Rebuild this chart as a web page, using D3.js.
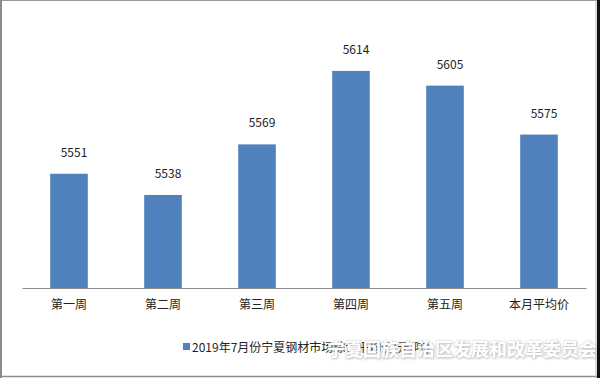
<!DOCTYPE html>
<html>
<head>
<meta charset="utf-8">
<script src="https://cdn.jsdelivr.net/npm/d3@7"></script>
<style>
  body { margin: 0; background: #fff; }
  svg { display: block; font-family: "Noto Sans CJK SC", "Noto Sans", sans-serif; }
</style>
</head>
<body>
<div id="main"></div>
<script>
var categories = ['第一周', '第二周', '第三周', '第四周', '第五周', '本月平均价'];
var prices = [5551, 5538, 5569, 5614, 5605, 5575];
var seriesName = '2019年7月份宁夏钢材市场综合平均价(元/吨)';
var watermark = '宁夏回族自治区发展和改革委员会';

var data = categories.map(function(c, i) { return { cat: c, val: prices[i] }; });

var width = 600, height = 378;
var barColor = '#4f81bd';

var svg = d3.select('#main').append('svg')
    .attr('width', width)
    .attr('height', height);

svg.append('rect')
    .attr('width', width).attr('height', height)
    .style('fill', '#fff');

var x = d3.scaleBand()
    .domain(categories)
    .range([22, 586])
    .paddingInner(0.6)
    .paddingOuter(0.3);

var y = d3.scaleLinear()
    .domain([5481, 5621])
    .range([288, 59.5]);

// bars
svg.selectAll('.bar').data(data)
    .enter().append('rect')
    .attr('class', 'bar')
    .attr('x', function(d) { return x(d.cat); })
    .attr('y', function(d) { return y(d.val); })
    .attr('width', x.bandwidth())
    .attr('height', function(d) { return y(y.domain()[0]) - y(d.val); })
    .style('fill', barColor);

// value labels
svg.selectAll('.val').data(data)
    .enter().append('text')
    .attr('class', 'val')
    .attr('x', function(d) { return x(d.cat) + x.bandwidth() / 2 + 5; })
    .attr('y', function(d) { return y(d.val) - 17; })
    .style('text-anchor', 'middle')
    .style('font-size', '12px')
    .style('fill', '#222')
    .text(function(d) { return d.val; });

// category axis
var xAxis = d3.axisBottom(x).tickSize(0).tickPadding(12.5);
var gx = svg.append('g')
    .attr('transform', 'translate(0,' + y(y.domain()[0]) + ')')
    .call(xAxis);
gx.select('.domain').style('stroke', '#8c8c8c').style('stroke-width', 1.2);
gx.selectAll('text')
    .style('font-size', '12px')
    .style('fill', '#222')
    .style('font-family', '"Noto Sans CJK SC", sans-serif');

// legend
var legend = svg.append('g').attr('transform', 'translate(183,343)');
legend.append('rect')
    .attr('width', 7).attr('height', 7)
    .style('fill', barColor);
legend.append('text')
    .attr('x', 9).attr('y', 8.5)
    .style('font-size', '12px')
    .style('fill', '#222')
    .text(seriesName);

// watermark (white text with a soft grey shadow, lying over the legend)
var defs = svg.append('defs');
var f = defs.append('filter').attr('id', 'wmShadow')
    .attr('x', '-10%').attr('y', '-30%').attr('width', '120%').attr('height', '160%');
f.append('feDropShadow')
    .attr('dx', 0.6).attr('dy', 0.8).attr('stdDeviation', 0.9)
    .attr('flood-color', '#777').attr('flood-opacity', 0.55);

svg.append('text')
    .attr('x', 327).attr('y', 356)
    .attr('textLength', 270)
    .style('font-size', '18px')
    .style('font-weight', 'bold')
    .style('fill', '#fff')
    .style('stroke', '#d0d0d0')
    .style('stroke-width', 0.5)
    .style('paint-order', 'stroke')
    .style('filter', 'url(#wmShadow)')
    .text(watermark);

// frame
svg.append('line').attr('x1', 0).attr('x2', 597).attr('y1', 0.5).attr('y2', 0.5)
    .style('stroke', '#9a9a9a').style('stroke-width', 1);
svg.append('line').attr('x1', 1).attr('x2', 1).attr('y1', 0).attr('y2', 378)
    .style('stroke', '#8c8c8c').style('stroke-width', 2);
svg.append('line').attr('x1', 0).attr('x2', 597).attr('y1', 376.5).attr('y2', 376.5)
    .style('stroke', '#8c8c8c').style('stroke-width', 1.5);
svg.append('line').attr('x1', 596).attr('x2', 596).attr('y1', 0).attr('y2', 378)
    .style('stroke', '#bbb').style('stroke-width', 1);
svg.append('rect').attr('x', 597).attr('y', 0).attr('width', 3).attr('height', 378)
    .style('fill', '#111');
</script>
</body>
</html>
